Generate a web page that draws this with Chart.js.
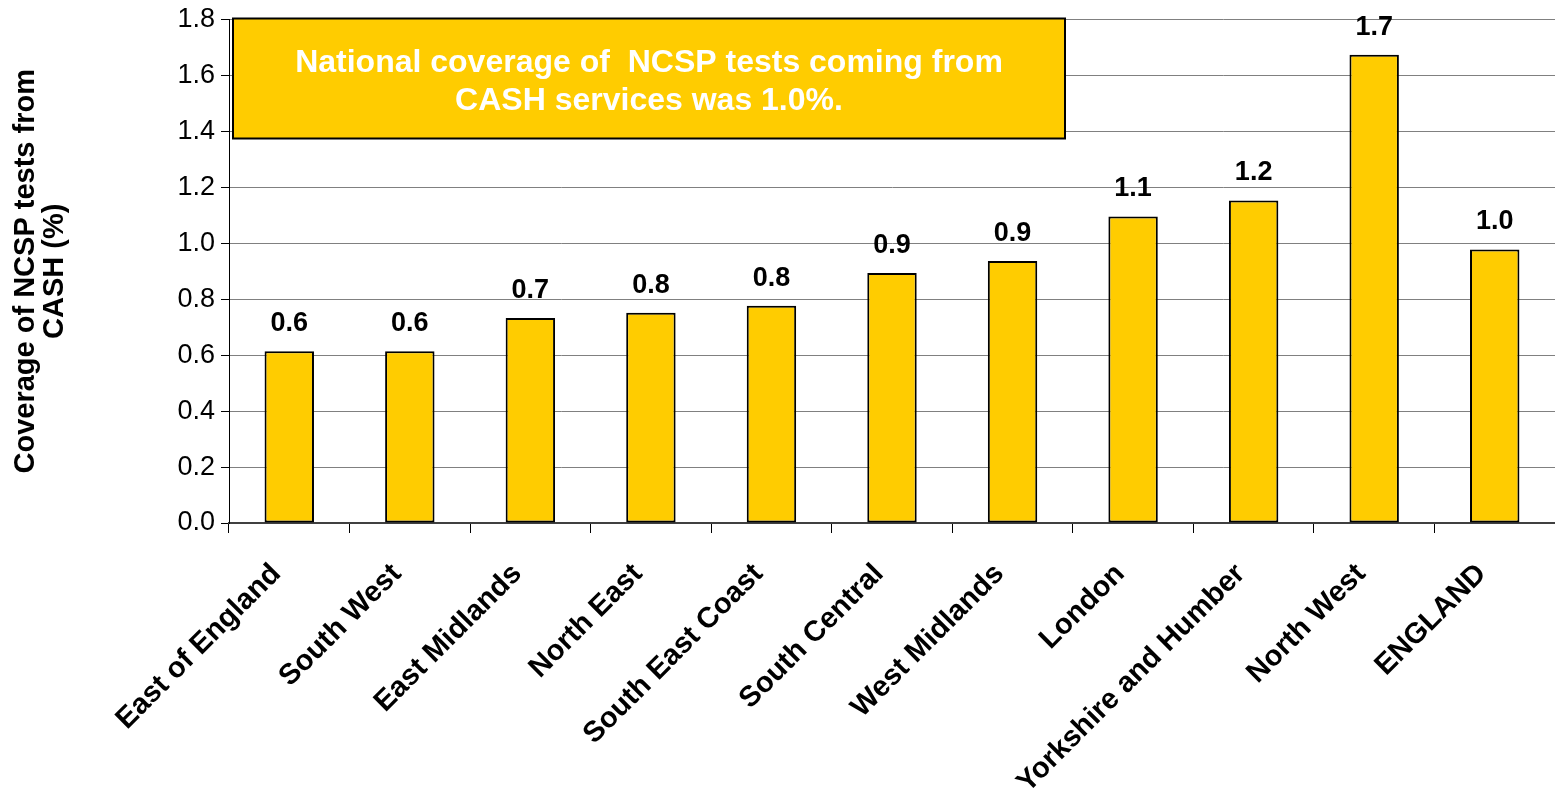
<!DOCTYPE html>
<html>
<head>
<meta charset="utf-8">
<script src="https://cdn.jsdelivr.net/npm/chart.js@4/dist/chart.umd.min.js"></script>
<style>
  html, body { margin: 0; padding: 0; background: #fff; }
  #wrap { width: 1555px; height: 792px; }
</style>
</head>
<body>
<div id="wrap"><canvas id="cash-chart" width="1555" height="792"></canvas></div>
<script>
const regions = ['East of England', 'South West', 'East Midlands', 'North East', 'South East Coast',
    'South Central', 'West Midlands', 'London', 'Yorkshire and Humber', 'North West', 'ENGLAND'];
const coverage = [0.614, 0.614, 0.733, 0.752, 0.777, 0.894, 0.937, 1.096, 1.153, 1.674, 0.978];
const yTicks = [0, 0.2, 0.4, 0.6, 0.8, 1.0, 1.2, 1.4, 1.6, 1.8];
const noteLines = ['National coverage of  NCSP tests coming from', 'CASH services was 1.0%.'];
const yTitle = ['Coverage of NCSP tests from', 'CASH (%)'];

const FONT = 'Liberation Sans, Arial, sans-serif';

// value labels over the bars
const valueLabels = {
    id: 'valueLabels',
    afterDatasetsDraw(chart) {
        const ctx = chart.ctx;
        const meta = chart.getDatasetMeta(0);
        ctx.save();
        ctx.font = 'bold 27px ' + FONT;
        ctx.fillStyle = '#000';
        ctx.textAlign = 'center';
        ctx.textBaseline = 'alphabetic';
        meta.data.forEach((bar, i) => {
            ctx.fillText(coverage[i].toFixed(1), bar.x, bar.y - 20);
        });
        ctx.restore();
    }
};

// yellow note box in the top left of the plot
const noteBox = {
    id: 'noteBox',
    afterDatasetsDraw(chart) {
        const ctx = chart.ctx;
        const a = chart.chartArea;
        const x = a.left + 4, y = a.top - 1, w = 832, h = 120;
        ctx.save();
        ctx.fillStyle = '#FFCC00';
        ctx.fillRect(x, y, w, h);
        ctx.strokeStyle = '#000';
        ctx.lineWidth = 2;
        ctx.strokeRect(x, y, w, h);
        ctx.fillStyle = '#fff';
        ctx.font = 'bold 32px ' + FONT;
        ctx.textAlign = 'center';
        ctx.textBaseline = 'alphabetic';
        ctx.fillText(noteLines[0], x + w / 2, y + 53);
        ctx.fillText(noteLines[1], x + w / 2, y + 91);
        ctx.restore();
    }
};

new Chart(document.getElementById('cash-chart').getContext('2d'), {
    type: 'bar',
    data: {
        labels: regions,
        datasets: [{
            data: coverage,
            backgroundColor: '#FFCC00',
            borderColor: '#000',
            borderWidth: 2,
            borderSkipped: false,
            barPercentage: 0.41,
            categoryPercentage: 1
        }]
    },
    options: {
        responsive: false,
        animation: false,
        layout: { padding: { top: 0, right: 0, left: 0, bottom: 0 } },
        plugins: {
            legend: { display: false },
            tooltip: { enabled: false }
        },
        scales: {
            x: {
                grid: {
                    offset: true,
                    drawOnChartArea: false,
                    tickLength: 10,
                    tickColor: '#000',
                    tickWidth: 1
                },
                border: { color: '#404040', width: 2 },
                ticks: {
                    color: '#000',
                    font: { family: FONT, size: 29, weight: 'bold' },
                    minRotation: 45,
                    maxRotation: 45,
                    autoSkip: false,
                    labelOffset: -13,
                    padding: 24
                },
                afterFit(scale) { scale.height = 269; }
            },
            y: {
                min: 0,
                max: 1.8,
                afterBuildTicks(scale) { scale.ticks = yTicks.map(v => ({ value: v })); },
                grid: {
                    color: '#808080',
                    lineWidth: 1,
                    tickLength: 8,
                    tickColor: '#000'
                },
                border: { color: '#000', width: 1 },
                ticks: {
                    color: '#000',
                    font: { family: FONT, size: 27, lineHeight: 1.0 },
                    padding: 6,
                    callback: v => Number(v).toFixed(1)
                },
                title: {
                    display: true,
                    text: yTitle,
                    color: '#000',
                    font: { family: FONT, size: 29, weight: 'bold', lineHeight: 1.0 },
                    padding: { top: 11, bottom: 40 }
                },
                afterFit(scale) { scale.width = 229; }
            }
        }
    },
    plugins: [valueLabels, noteBox]
});
</script>
</body>
</html>
